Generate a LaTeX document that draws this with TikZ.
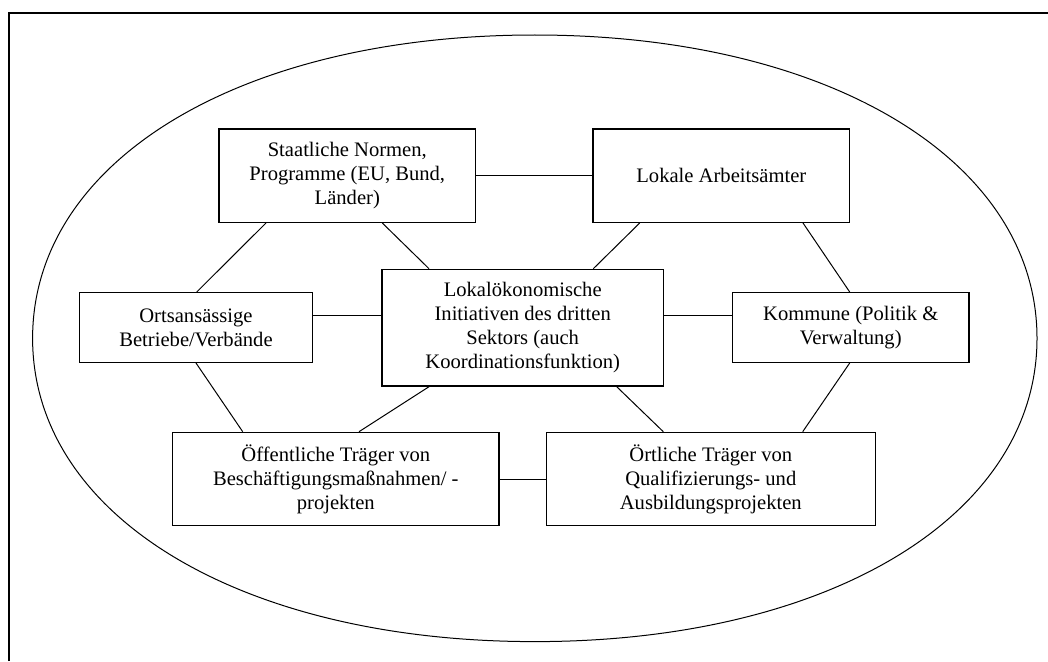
\documentclass[tikz,border=0pt]{standalone}
\usepackage{fontspec}
\setmainfont{Liberation Serif}
\begin{document}
\begin{tikzpicture}[x=1pt,y=-1pt,
  actor/.style={draw,line width=1.3pt,align=center,inner sep=4pt,
    font=\fontsize{20.6}{24}\selectfont},
  link/.style={line width=1pt}]
\useasboundingbox (0,0) rectangle (1048,661);
% outer frame (only left and top edges are visible)
\draw[line width=2pt] (9.3,661) -- (9.3,13.3) -- (1048,13.3);
% surrounding oval, slightly fuller than a true ellipse
\draw[line width=1pt]
  (1037,338.3)
  .. controls (1037,516.0) and (829.1,641.6) .. (534.8,641.6)
  .. controls (240.5,641.6) and (32.6,516.0) .. (32.6,338.3)
  .. controls (32.6,160.6) and (240.5,35.0) .. (534.8,35.0)
  .. controls (829.1,35.0) and (1037,160.6) .. cycle;

% actors
\node[actor,minimum width=256.7pt,minimum height=93.3pt] (stn) at (347.3,175.7)
  {Staatliche Normen,\\Programme (EU, Bund,\\Länder)};
\node[actor,minimum width=256.7pt,minimum height=93.3pt] (lok) at (721.3,175.7)
  {Lokale Arbeitsämter};
\node[actor,minimum width=233.3pt,minimum height=69.7pt] (ort) at (196,327.5)
  {Ortsansässige\\Betriebe/Verbände};
\node[actor,minimum width=281.3pt,minimum height=116.7pt] (cen) at (522.7,327.7)
  {Lokalökonomische\\Initiativen des dritten\\Sektors (auch\\Koordinationsfunktion)};
\node[actor,minimum width=236.7pt,minimum height=69.7pt] (kom) at (850.7,327.5)
  {Kommune (Politik \&\\Verwaltung)};
\node[actor,minimum width=326.3pt,minimum height=93.3pt] (oef) at (335.8,479)
  {Öffentliche Träger von\\Beschäftigungsmaßnahmen/ -\\projekten};
\node[actor,minimum width=329pt,minimum height=93.3pt] (oer) at (710.8,479)
  {Örtliche Träger von\\Qualifizierungs- und\\Ausbildungsprojekten};

% connections
\draw[link] (stn.east) -- (lok.west);
\draw[link] ([xshift=-81.3pt]stn.south) -- ([xshift=0.7pt]ort.north);
\draw[link] ([xshift=35pt]stn.south) -- ([xshift=-93.7pt]cen.north);
\draw[link] ([xshift=-81.6pt]lok.south) -- ([xshift=70.6pt]cen.north);
\draw[link] ([xshift=81.7pt]lok.south) -- ([xshift=-1pt]kom.north);
\draw[link] ([yshift=12.5pt]ort.east) -- ([yshift=12.7pt]cen.west);
\draw[link] ([yshift=12.7pt]cen.east) -- ([yshift=12.5pt]kom.west);
\draw[link] (ort.south) -- ([xshift=-93.1pt]oef.north);
\draw[link] ([xshift=-93.7pt]cen.south) -- ([xshift=23.2pt]oef.north);
\draw[link] ([xshift=94pt]cen.south) -- ([xshift=-47.5pt]oer.north);
\draw[link] ([xshift=-1pt]kom.south) -- ([xshift=91.9pt]oer.north);
\draw[link] (oef.east) -- (oer.west);
\end{tikzpicture}
\end{document}
